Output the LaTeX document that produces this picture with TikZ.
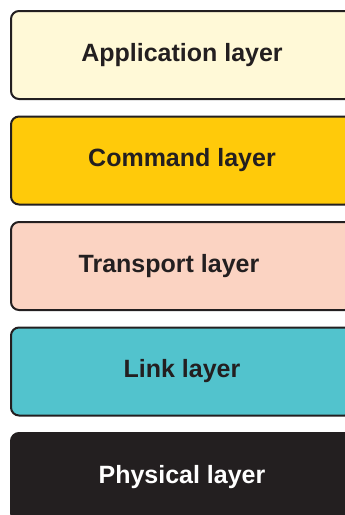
\documentclass[tikz,border=0pt]{standalone}
\usepackage{fontspec}
\setmainfont{Liberation Sans}
\usetikzlibrary{positioning}
\definecolor{inkblack}{HTML}{231F20}
\definecolor{appyellow}{HTML}{FFF9D7}
\definecolor{cmdyellow}{HTML}{FFCA0A}
\definecolor{transpink}{HTML}{FBD3C2}
\definecolor{linkcyan}{HTML}{52C3CD}

\tikzset{layer/.style={draw=inkblack, line width=2pt, rounded corners=8pt,
    minimum width=342pt, minimum height=88pt, text=inkblack,
    font=\fontsize{25}{30}\selectfont\bfseries}}

\begin{document}
\begin{tikzpicture}[node distance=15.5pt]
    \useasboundingbox (0,0) rectangle (345pt,-515pt);
    \clip (0,0) rectangle (345pt,-515pt);
    \node[layer, fill=appyellow, anchor=north west] (app) at (10pt,-10pt) {Application layer};
    \node[layer, fill=cmdyellow, below=of app] (cmd) {Command layer};
    \node[layer, fill=transpink, below=of cmd] (trans) {Transport layer\kern26pt};
    \node[layer, fill=linkcyan, below=of trans] (link) {Link layer};
    \node[layer, fill=inkblack, text=white, below=of link] (phys) {Physical layer};
  \end{tikzpicture}
\end{document}
